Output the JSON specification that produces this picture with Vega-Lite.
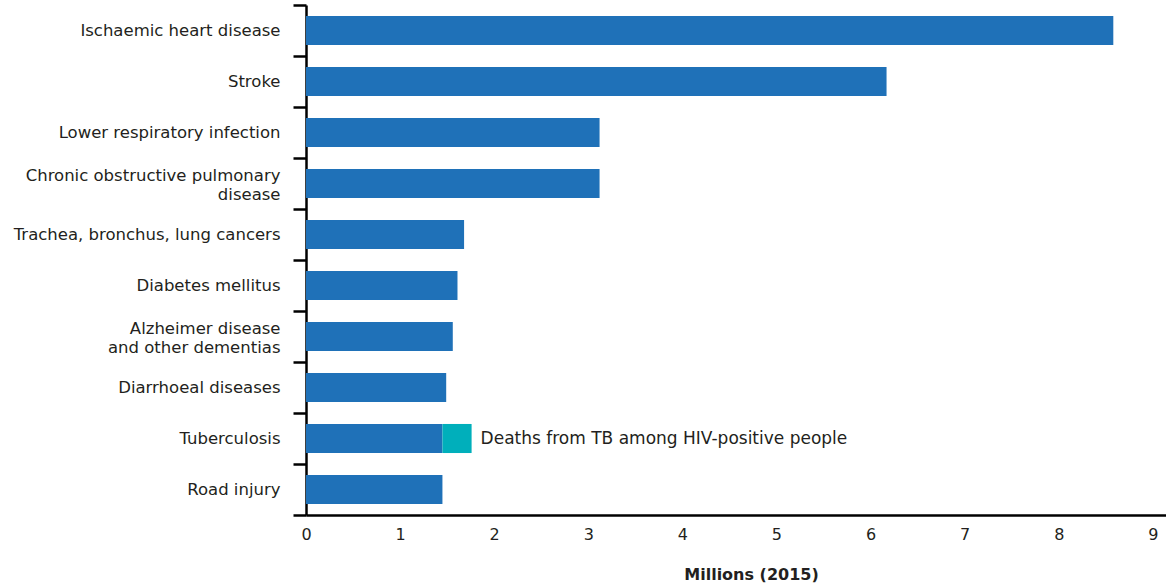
{
  "$schema": "https://vega.github.io/schema/vega-lite/v6.json",
  "autosize": {"type": "none"},
  "padding": {"left": 306, "top": 5, "right": 0, "bottom": 70},
  "width": 860,
  "height": 510,
  "background": "white",
  "config": {
    "font": "DejaVu Sans",
    "view": {"stroke": null},
    "axis": {"grid": false, "labelFont": "DejaVu Sans", "titleFont": "DejaVu Sans", "labelColor": "#231f20", "titleColor": "#231f20"}
  },
  "data": {
    "values": [
      {"cause": "Ischaemic heart disease", "part": "All", "order": 1, "rank": 1, "value": 8.58, "note": ""},
      {"cause": "Stroke", "part": "All", "order": 1, "rank": 2, "value": 6.17, "note": ""},
      {"cause": "Lower respiratory infection", "part": "All", "order": 1, "rank": 3, "value": 3.12, "note": ""},
      {"cause": "Chronic obstructive pulmonary|disease", "part": "All", "order": 1, "rank": 4, "value": 3.12, "note": ""},
      {"cause": "Trachea, bronchus, lung cancers", "part": "All", "order": 1, "rank": 5, "value": 1.68, "note": ""},
      {"cause": "Diabetes mellitus", "part": "All", "order": 1, "rank": 6, "value": 1.61, "note": ""},
      {"cause": "Alzheimer disease|and other dementias", "part": "All", "order": 1, "rank": 7, "value": 1.56, "note": ""},
      {"cause": "Diarrhoeal diseases", "part": "All", "order": 1, "rank": 8, "value": 1.49, "note": ""},
      {"cause": "Tuberculosis", "part": "All", "order": 1, "rank": 9, "value": 1.45, "note": ""},
      {"cause": "Tuberculosis", "part": "HIV", "order": 2, "rank": 9, "value": 0.31, "note": "Deaths from TB among HIV-positive people"},
      {"cause": "Road injury", "part": "All", "order": 1, "rank": 10, "value": 1.45, "note": ""}
    ]
  },
  "encoding": {
    "y": {
      "field": "cause",
      "type": "nominal",
      "sort": {"field": "rank", "op": "min", "order": "ascending"},
      "scale": {"paddingInner": 0, "paddingOuter": 0},
      "axis": {
        "title": null,
        "labelExpr": "split(datum.label, '|')",
        "labelOffset": {"condition": {"test": "indexof(datum.label, '|') >= 0", "value": -8}, "value": 0},
        "labelFontSize": 16.5,
        "labelLineHeight": 19,
        "labelPadding": 13,
        "tickBand": "extent",
        "tickSize": 13,
        "tickWidth": 2.5,
        "tickColor": "#000000",
        "domainColor": "#000000",
        "domainWidth": 2.5,
        "labelLimit": 400
      }
    }
  },
  "layer": [
    {
      "mark": {"type": "bar", "height": {"band": 0.57}},
      "encoding": {
        "x": {
          "field": "value",
          "type": "quantitative",
          "stack": "zero",
          "scale": {"domain": [0, 9.14], "nice": false},
          "axis": {
            "title": "Millions (2015)",
            "titleFontSize": 16,
            "titleFontWeight": "bold",
            "titlePadding": 24,
            "titleX": 445,
            "values": [0, 1, 2, 3, 4, 5, 6, 7, 8, 9],
            "format": "d",
            "labelFlush": false,
            "labelFontSize": 16,
            "labelPadding": 11,
            "ticks": false,
            "domainColor": "#000000",
            "domainWidth": 2.5
          }
        },
        "color": {
          "field": "part",
          "type": "nominal",
          "scale": {"domain": ["All", "HIV"], "range": ["#1f71b8", "#00afbb"]},
          "legend": null
        },
        "order": {"field": "order", "type": "quantitative"}
      }
    },
    {
      "transform": [
        {"joinaggregate": [{"op": "sum", "field": "value", "as": "total"}], "groupby": ["cause"]},
        {"filter": "datum.note != ''"}
      ],
      "mark": {"type": "text", "align": "left", "baseline": "middle", "dx": 9, "fontSize": 17, "font": "DejaVu Sans", "color": "#231f20"},
      "encoding": {
        "x": {"field": "total", "type": "quantitative"},
        "text": {"field": "note"}
      }
    }
  ]
}
